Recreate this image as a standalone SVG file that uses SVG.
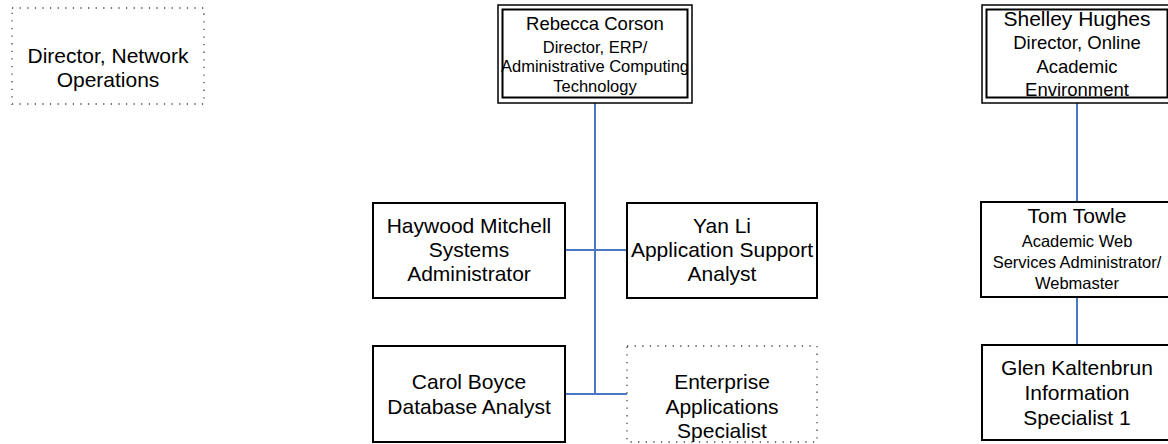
<svg xmlns="http://www.w3.org/2000/svg" width="1168" height="444" viewBox="0 0 1168 444">
<style>
text{font-family:"Liberation Sans",Arial,sans-serif;fill:#000;text-anchor:middle}
.box{fill:#fff;stroke:#000;stroke-width:2}
.outer{fill:#fff;stroke:#000;stroke-width:1.5}
.dot{fill:#fff;stroke:#444;stroke-width:1.3;stroke-dasharray:1.3 6.3}
.conn{fill:none;stroke:#4a78c4;stroke-width:2}
.big{font-size:21px}
.mid{font-size:18.5px}
.sm{font-size:16.5px}
.nm{font-size:18.5px}
</style>
<rect width="1168" height="444" fill="#fff"/>
<g id="connectors">
<path class="conn" d="M595 103V394M565 250H627M565 394H627"/>
<path class="conn" d="M1077 103V202M1077 297V345"/>
</g>
<g id="network-ops">
<rect class="dot" x="12" y="8" width="192" height="96"/>
<text class="big" x="108" y="63">Director, Network</text>
<text class="big" x="108" y="87">Operations</text>
</g>
<g id="rebecca">
<rect class="outer" x="498" y="5" width="194" height="98"/>
<rect class="box" x="502.5" y="9.5" width="185" height="88"/>
<text class="nm" x="595" y="30">Rebecca Corson</text>
<text class="sm" x="595" y="52.5">Director, ERP/</text>
<text class="sm" x="595" y="72">Administrative Computing</text>
<text class="sm" x="595" y="91.5">Technology</text>
</g>
<g id="shelley">
<rect class="outer" x="982" y="5" width="194" height="98"/>
<rect class="box" x="986.5" y="9.5" width="181" height="88"/>
<text class="big" x="1077" y="26">Shelley Hughes</text>
<text class="mid" x="1077" y="49">Director, Online</text>
<text class="mid" x="1077" y="72.5">Academic</text>
<text class="mid" x="1077" y="96">Environment</text>
</g>
<g id="haywood">
<rect class="box" x="373" y="203" width="192" height="95"/>
<text class="big" x="469" y="233">Haywood Mitchell</text>
<text class="big" x="469" y="257">Systems</text>
<text class="big" x="469" y="281">Administrator</text>
</g>
<g id="yanli">
<rect class="box" x="627" y="203" width="190" height="95"/>
<text class="big" x="722" y="233">Yan Li</text>
<text class="big" x="722" y="257">Application Support</text>
<text class="big" x="722" y="281">Analyst</text>
</g>
<g id="carol">
<rect class="box" x="373" y="346" width="192" height="96"/>
<text class="big" x="469" y="389">Carol Boyce</text>
<text class="big" x="469" y="414">Database Analyst</text>
</g>
<g id="enterprise">
<rect class="dot" x="627" y="346" width="190" height="96"/>
<text class="big" x="722" y="389">Enterprise</text>
<text class="big" x="722" y="414">Applications</text>
<text class="big" x="722" y="438">Specialist</text>
</g>
<g id="tom">
<rect class="box" x="981" y="202" width="192" height="95"/>
<text class="big" x="1077" y="223">Tom Towle</text>
<text class="sm" x="1077" y="247">Academic Web</text>
<text class="sm" x="1077" y="268">Services Administrator/</text>
<text class="sm" x="1077" y="289">Webmaster</text>
</g>
<g id="glen">
<rect class="box" x="982" y="345" width="192" height="95"/>
<text class="big" x="1077" y="375">Glen Kaltenbrun</text>
<text class="big" x="1077" y="400">Information</text>
<text class="big" x="1077" y="425">Specialist 1</text>
</g>
</svg>
